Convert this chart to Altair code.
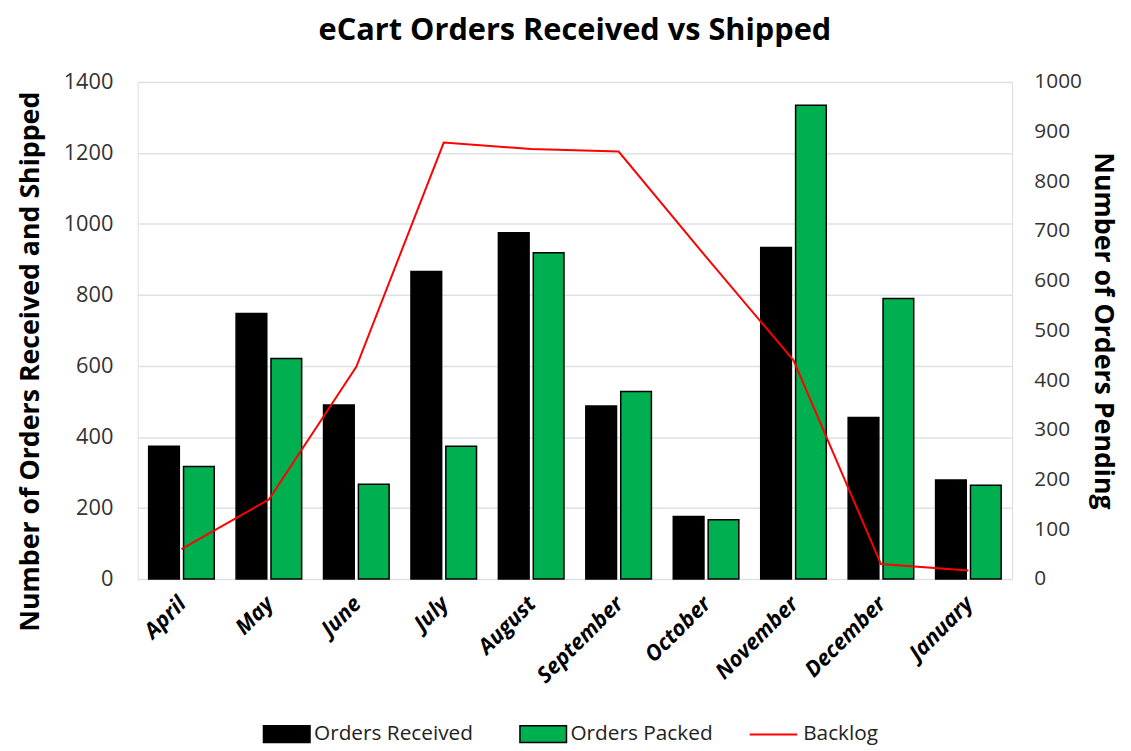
import altair as alt
import pandas as pd

months = ["April", "May", "June", "July", "August", "September",
          "October", "November", "December", "January"]
orders_received = [374, 748, 490, 866, 975, 487, 176, 934, 455, 279]
orders_packed = [317, 621, 267, 374, 919, 528, 167, 1334, 790, 264]
backlog = [60, 160, 427, 878, 865, 860, 648, 440, 30, 17]

bar_series = ["Orders Received", "Orders Packed"]
bar_colors = ["#000000", "#00B050"]
line_series = ["Backlog"]
line_colors = ["#FF0000"]

rows = []
for m, r, p in zip(months, orders_received, orders_packed):
    rows.append({"Month": m, "Series": bar_series[0], "Value": r})
    rows.append({"Month": m, "Series": bar_series[1], "Value": p})
bars_df = pd.DataFrame(rows)
line_df = pd.DataFrame({"Month": months, "Series": line_series[0], "Value": backlog})

FONT = "Open Sans"
GRID = "#dde1e6"
RECT = "M-1,-0.36H1V0.36H-1Z"

x_enc = alt.X(
    "Month:N", sort=months,
    scale=alt.Scale(paddingInner=0.25, paddingOuter=0.125),
    axis=alt.Axis(title=None, labelAngle=-45, labelFont=FONT, labelFontSize=22,
                  labelFontWeight="bold", labelFontStyle="italic", labelColor="#000000",
                  ticks=False, domain=False, labelPadding=14, labelOffset=-6),
)

bars = alt.Chart(bars_df).mark_bar(stroke="#000000", strokeWidth=1.5).encode(
    x=x_enc,
    xOffset=alt.XOffset("Series:N", sort=bar_series, scale=alt.Scale(paddingInner=0.12)),
    y=alt.Y("Value:Q", scale=alt.Scale(domain=[0, 1400]),
            axis=alt.Axis(values=list(range(0, 1401, 200)), format="d",
                          title="Number of Orders Received and Shipped",
                          titleFont=FONT, titleFontSize=27, titleFontWeight="bold",
                          titleColor="#000000", titleX=-94, titleY=282,
                          titleAngle=-90, titleAlign="center", titleBaseline="bottom",
                          labelFont=FONT, labelFontSize=22, labelColor="#333333",
                          labelPadding=25, ticks=False, domain=False,
                          grid=True, gridColor=GRID, gridWidth=1.5)),
    color=alt.Color("Series:N", sort=bar_series,
                    scale=alt.Scale(domain=bar_series, range=bar_colors),
                    legend=alt.Legend(title=None, orient="none", direction="horizontal",
                                      legendX=126, legendY=634,
                                      symbolType=RECT, symbolSize=2209,
                                      symbolStrokeColor="#000000", symbolStrokeWidth=1.5,
                                      symbolOpacity=1,
                                      labelFont=FONT, labelFontSize=21, labelColor="#222222",
                                      labelLimit=400, labelOffset=3, columnPadding=44)),
)

line = alt.Chart(line_df).mark_line(color="#FF0000", strokeWidth=2).encode(
    x=alt.X("Month:N", sort=months),
    y=alt.Y("Value:Q", scale=alt.Scale(domain=[0, 1000]),
            axis=alt.Axis(orient="right", values=list(range(0, 1001, 100)), format="d",
                          title="Number of Orders Pending", titleAngle=90,
                          titleFont=FONT, titleFontSize=27, titleFontWeight="bold",
                          titleColor="#000000", titlePadding=7,
                          labelFont=FONT, labelFontSize=21, labelColor="#333333",
                          labelPadding=22, ticks=False, domain=False, grid=False)),
    color=alt.Color("Series:N",
                    scale=alt.Scale(domain=line_series, range=line_colors),
                    legend=alt.Legend(title=None, orient="none", direction="horizontal",
                                      legendX=617, legendY=634,
                                      symbolType="stroke", symbolSize=2304,
                                      symbolStrokeWidth=2,
                                      labelFont=FONT, labelFontSize=21, labelColor="#222222",
                                      labelLimit=400, labelOffset=5)),
)

chart = alt.layer(bars, line).resolve_scale(
    y="independent", color="independent"
).properties(
    width=883, height=502,
    title=alt.TitleParams("eCart Orders Received vs Shipped", font=FONT, fontSize=31,
                          fontWeight="bold", color="#000000", anchor="middle", offset=24),
    padding={"left": 8, "top": 4, "right": 6, "bottom": 0},
).configure_view(stroke=None).configure(background="#ffffff")

chart.save("out.html", embed_options={"renderer": "svg", "actions": False})
